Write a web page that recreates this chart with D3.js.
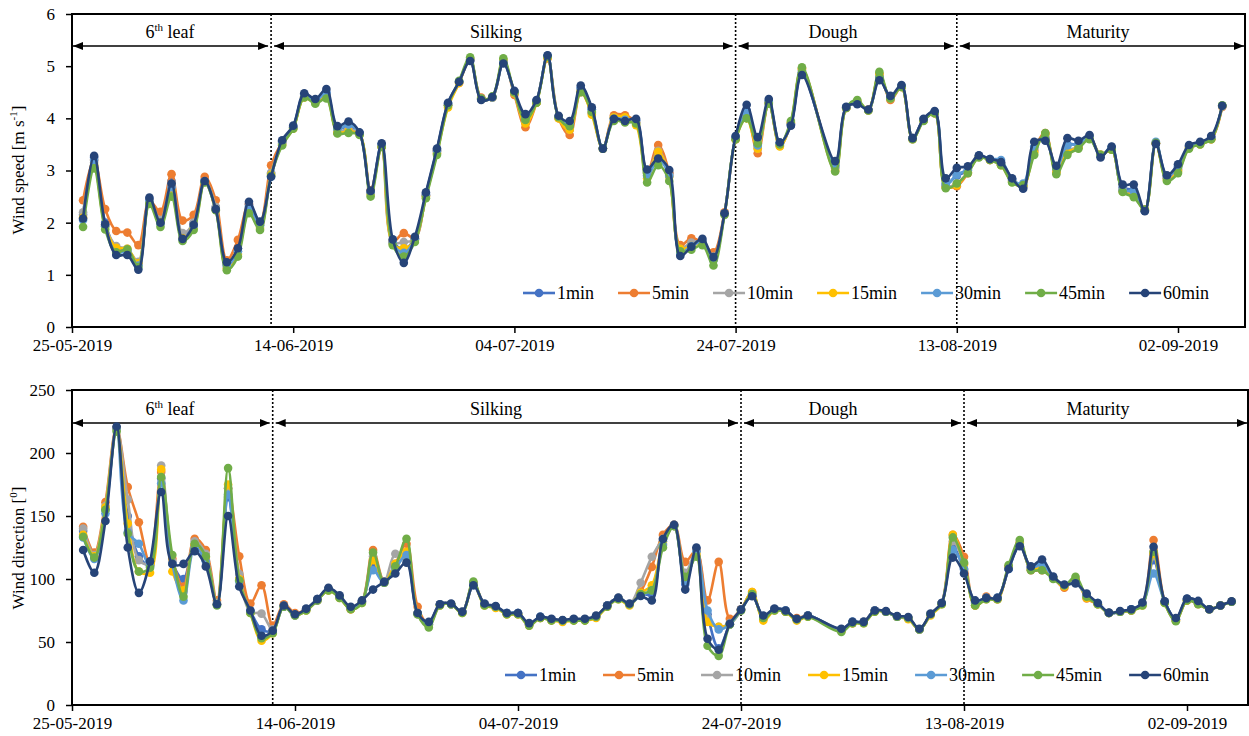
<!DOCTYPE html>
<html><head><meta charset="utf-8">
<script src="https://cdn.jsdelivr.net/npm/d3@7"></script>
<style>
body{margin:0;background:#fff}
svg{display:block}
svg text{font-family:"Liberation Serif","Times New Roman",Times,"DejaVu Serif",serif !important;fill:#000}
</style>
</head><body>
<svg id="chart" width="1249" height="736"></svg>
<script>
// ---------- DATA ----------
const startDate = "25-05-2019";
// observation days, counted from 25-05-2019
const days = [1,2,3,4,5,6,7,8,9,10,11,12,13,14,15,16,17,18,19,20,21,22,23,24,25,26,27,28,29,30,
31,32,33,34,35,36,37,38,39,40,41,42,43,44,45,46,47,48,49,50,51,52,53,54,55,56,57,58,59,60,
61,62,63,64,65,66,69,70,71,72,73,74,75,76,77,78,79,80,81,82,83,84,85,86,87,88,89,90,
91,92,93,94,95,96,97,98,99,100,101,102,103,104];
const seriesNames = ["1min","5min","10min","15min","30min","45min","60min"];
const seriesColors = ["#4472C4","#ED7D31","#A5A5A5","#FFC000","#5B9BD5","#70AD47","#264478"];
const xTickLabels = ["25-05-2019","14-06-2019","04-07-2019","24-07-2019","13-08-2019","02-09-2019"];
const phaseNames = ["6th leaf","Silking","Dough","Maturity"];
const phaseBounds = ["12-06-2019","24-07-2019","13-08-2019"];
const endDate = "08-09-2019";
const speedTicks = [0,1,2,3,4,5,6];
const dirTicks = [0,50,100,150,200,250];

// Wind speed [m s-1]
const speed1min = [2.15,3.25,2.00,1.50,1.45,1.20,2.45,2.05,2.80,1.75,
2.00,2.82,2.30,1.20,1.50,2.35,2.00,2.95,3.55,3.84,
4.45,4.35,4.50,3.80,3.85,3.72,2.60,3.50,1.65,1.50,
1.70,2.55,3.40,4.28,4.70,5.12,4.37,4.40,5.08,4.50,
4.00,4.33,5.20,4.03,3.85,4.58,4.17,3.42,4.00,3.98,
3.96,2.95,3.30,2.95,1.42,1.60,1.65,1.30,2.18,3.63,
4.15,3.50,4.33,3.52,3.88,4.88,
3.10,4.21,4.30,4.16,4.80,4.40,4.62,3.62,3.98,4.12,
2.75,2.90,3.00,3.28,3.21,3.14,2.82,2.68,3.45,3.63,
3.02,3.50,3.50,3.65,3.28,3.43,2.68,2.62,2.23,3.52,
2.88,3.05,3.47,3.53,3.63,4.24];
const speed5min = [2.43,3.20,2.26,1.84,1.81,1.57,2.42,2.21,2.93,2.04,
2.15,2.88,2.43,1.28,1.67,2.36,2.00,3.10,3.55,3.82,
4.42,4.33,4.45,3.72,3.74,3.70,2.62,3.45,1.64,1.80,
1.70,2.52,3.38,4.25,4.68,5.12,4.40,4.40,5.10,4.45,
3.83,4.30,5.15,4.00,3.68,4.50,4.10,3.42,4.06,4.06,
3.92,2.95,3.49,2.95,1.57,1.70,1.62,1.43,2.20,3.60,
4.05,3.33,4.30,3.48,3.90,4.95,
3.05,4.20,4.30,4.17,4.85,4.35,4.60,3.62,3.97,4.10,
2.70,2.70,2.95,3.27,3.20,3.12,2.80,2.72,3.40,3.72,
2.98,3.35,3.45,3.65,3.30,3.40,2.62,2.55,2.25,3.52,
2.85,3.02,3.45,3.52,3.60,4.22];
const speed10min = [2.20,3.15,1.95,1.55,1.50,1.25,2.40,2.05,2.75,1.80,
2.00,2.80,2.30,1.15,1.45,2.30,1.95,2.95,3.52,3.82,
4.42,4.32,4.45,3.75,3.80,3.70,2.58,3.48,1.62,1.63,
1.68,2.52,3.36,4.25,4.70,5.13,4.38,4.40,5.10,4.48,
3.92,4.32,5.18,4.02,3.78,4.55,4.12,3.42,4.02,4.00,
3.92,2.90,3.38,2.90,1.50,1.62,1.62,1.35,2.18,3.60,
4.08,3.42,4.30,3.47,3.90,4.92,
3.05,4.20,4.32,4.15,4.82,4.38,4.60,3.60,3.96,4.10,
2.70,2.75,2.97,3.27,3.20,3.12,2.80,2.70,3.38,3.68,
2.98,3.38,3.45,3.62,3.30,3.42,2.63,2.58,2.24,3.52,
2.85,3.00,3.45,3.52,3.62,4.23];
const speed15min = [2.10,3.10,1.92,1.52,1.50,1.22,2.38,2.00,2.60,1.70,
1.90,2.78,2.25,1.12,1.40,2.22,1.90,2.92,3.50,3.80,
4.40,4.30,4.40,3.73,3.75,3.70,2.55,3.46,1.60,1.51,
1.66,2.50,3.33,4.21,4.68,5.14,4.36,4.40,5.12,4.48,
3.90,4.30,5.16,4.00,3.78,4.52,4.07,3.42,4.02,4.02,
3.87,2.85,3.36,2.88,1.50,1.55,1.60,1.30,2.16,3.60,
4.00,3.42,4.30,3.46,3.92,4.95,
3.00,4.20,4.33,4.15,4.85,4.38,4.60,3.60,3.96,4.10,
2.68,2.72,2.96,3.26,3.20,3.10,2.78,2.70,3.35,3.70,
2.96,3.35,3.44,3.62,3.30,3.40,2.60,2.52,2.24,3.52,
2.82,2.98,3.43,3.50,3.60,4.24];
const speed30min = [2.05,3.20,1.93,1.42,1.45,1.18,2.42,1.98,2.68,1.68,
1.93,2.78,2.25,1.18,1.45,2.30,1.95,2.88,3.55,3.83,
4.45,4.33,4.48,3.80,3.88,3.72,2.58,3.50,1.62,1.42,
1.68,2.53,3.38,4.28,4.70,5.12,4.36,4.40,5.08,4.50,
4.00,4.33,5.20,4.03,3.88,4.58,4.17,3.42,3.99,3.97,
3.96,2.90,3.20,2.90,1.42,1.55,1.63,1.28,2.17,3.63,
4.10,3.48,4.32,3.52,3.88,4.88,
3.08,4.21,4.30,4.16,4.78,4.40,4.62,3.62,3.98,4.12,
2.72,2.92,3.02,3.28,3.22,3.20,2.83,2.75,3.45,3.60,
3.05,3.48,3.50,3.65,3.28,3.45,2.62,2.60,2.23,3.55,
2.88,3.08,3.47,3.53,3.63,4.24];
const speed45min = [1.92,3.04,1.87,1.43,1.49,1.15,2.36,1.92,2.50,1.65,
1.86,2.77,2.24,1.09,1.35,2.18,1.86,2.90,3.48,3.80,
4.40,4.28,4.38,3.71,3.72,3.68,2.50,3.45,1.57,1.35,
1.63,2.47,3.30,4.25,4.72,5.17,4.38,4.42,5.15,4.50,
3.97,4.30,5.18,4.02,3.85,4.50,4.12,3.42,3.95,3.92,
3.90,2.77,3.10,2.80,1.45,1.48,1.57,1.18,2.15,3.60,
4.00,3.52,4.28,3.50,3.95,4.98,
2.98,4.20,4.35,4.15,4.89,4.38,4.60,3.60,3.95,4.10,
2.66,2.75,2.95,3.25,3.20,3.10,2.77,2.72,3.30,3.72,
2.93,3.30,3.42,3.60,3.30,3.40,2.59,2.49,2.25,3.53,
2.80,2.95,3.42,3.50,3.60,4.25];
const speed60min = [2.08,3.28,1.97,1.38,1.38,1.10,2.48,2.00,2.75,1.69,
1.96,2.80,2.26,1.24,1.51,2.40,2.02,2.88,3.58,3.86,
4.48,4.37,4.56,3.85,3.94,3.73,2.61,3.52,1.68,1.23,
1.73,2.58,3.42,4.30,4.70,5.10,4.35,4.41,5.05,4.53,
4.08,4.35,5.21,4.05,3.95,4.63,4.21,3.42,3.99,3.95,
3.99,3.02,3.23,3.01,1.36,1.54,1.69,1.34,2.18,3.66,
4.26,3.64,4.37,3.54,3.86,4.83,
3.18,4.22,4.27,4.17,4.73,4.43,4.64,3.62,3.99,4.14,
2.85,3.05,3.08,3.29,3.22,3.16,2.85,2.65,3.55,3.57,
3.09,3.62,3.57,3.68,3.25,3.46,2.73,2.73,2.22,3.51,
2.91,3.12,3.49,3.55,3.66,4.24];

// Wind direction [deg]
const dir1min = [138,118,155,220,150,118,111,180,113,100,
126,115,80,165,100,75,60,59,79,72,
76,84,92,86,77,82,110,97,110,118,
73,65,80,80,74,95,80,78,73,73,
64,70,68,67,68,68,70,79,85,80,
88,88,130,143,96,124,72,45,64,76,
87,70,76,75,68,71,
60,66,66,75,74,70,69,60,72,81,
125,108,82,85,85,108,127,109,113,101,
95,97,87,81,73,74,76,80,115,82,
68,84,82,76,79,82];
const dir5min = [141.5,121,161,220,173,145,112,185,116,94,
132,123,83,172,118,80.5,95,63,80,73,
76,83,92,86,76,82,123,98,112,128,
78,64,80,80,74,97,80,78,72,72,
64,69,68,67,68,68,70,79,85,80,
90,109.6,135,143,113.6,123,83,113.6,68.5,76,
89.7,68,76,74,69,71,
59,65,66,75,74,70,69,60,72,81,
135,117.6,79,86,84,110,129,107,107,101,
93,100,84.5,80,73,74,75,80,131,82,
67,83,80,76,79,82];
const dir10min = [140,119,158,220,163,115,112,190,114,90,
130,120,81,172,104,74,72.5,60,79,72,
76,84,92,86,77,82,118,98,120,116,
73,64,80,80,74,96,80,78,73,73,
64,70,68,67,68,68,70,79,85,80,
97,117.6,132,143,105,122,70,62,65,76,
88,69,76,75,68,71,
60,66,66,75,74,70,69,60,72,81,
130,112,81,85,85,109,128,108,110,101,
95,98,86,80,73,74,75,80,118,82,
68,84,81,76,79,82];
const dir15min = [135,118,157,219,144,106,105,187,106,91,
127,117,80,175,100,73,51,57,78,71,
75,83,91,85,76,81,115,97,112,121.6,
72,63,79,80,73,96,79,77,72,72,
63,69,67,66,67,67,69,78,84,79,
89,95,128,142,100,120,66,62,64,75,
89.7,67,75,74,67,70,
59,65,65,74,74,70,68,60,71,80,
135,112,79,84,84,109,128,108,108,101,
94,99,85,80,73,74,75,79,120,81,
67,83,81,76,79,82];
const dir30min = [133,116,152,219,137,128,110,176,112,83,
125,114,80,167,98,74,55,58,78,71,
76,83,92,86,77,82,107,97,108,119,
72,64,80,80,74,96,80,78,73,73,
64,70,68,67,68,68,70,79,85,80,
87,91,127,142,98,122,75,60,64,75,
87,70,76,75,68,71,
60,66,66,75,74,70,69,60,72,81,
123,108,81,85,85,108,127,109,112,101,
95,97,87,81,73,74,76,80,104.4,82,
68,84,82,76,79,82];
const dir45min = [133.5,117,155,217,136,106,109,181,119,86,
128,118,79,188,99,73,53,57,78,71,
75,83,91,85,76,81,121,97,110,132,
72,61.6,79,80,73,98,79,78,72,72,
63,69,67,67,67,67,70,78,84,80,
88,91,125,142,101.7,117.6,47,39,64,75,
88,69,75,74,68,70,
58,65,65,74,74,70,69,60,72,80,
133,113,79,84,84,111,131,107,107,100,
95,101.7,86,80,73,74,75,79,121.6,81,
66.5,83,80,76,79,82];
const dir60min = [123,105,146,221,125,89,114,169,112,112,
122,110,80,150,94,75,55,59,79,72,
76.5,84,93,87,78,83,91.6,97.7,104.4,113,
73,66,80,80.5,74,95,80.5,78.6,73,73,
65,70,68.5,67.5,68.5,68.5,71,79,85,80.5,
86.5,83,131.7,143,91.6,125,52.6,43.8,64.5,75.7,
86.3,71,76.5,75,68.5,71,
60.5,66,66,75,74.5,70.6,69.8,60.5,72.5,81,
117,104.4,83,85,85,108,126,110,115.5,102,
95.6,96.5,88.4,81,73.3,74.6,76,81.3,125.6,82.3,
69,84.5,82.6,76,79,82.3];

// ---------- DRAWING ----------
const FONT = '"Liberation Serif","Times New Roman",Times,"DejaVu Serif",serif';
const parse = d3.timeParse("%d-%m-%Y");
const fmt = d3.timeFormat("%d-%m-%Y");
const t0 = parse(startDate), tEnd = parse(endDate);
const dates = days.map(d => d3.timeDay.offset(t0, d));
const svg = d3.select("#chart").attr("font-family", FONT);

const defs = svg.append("defs");
defs.append("marker").attr("id","arr").attr("viewBox","0 0 10 8")
  .attr("refX",10).attr("refY",4).attr("markerWidth",10).attr("markerHeight",8)
  .attr("markerUnits","userSpaceOnUse").attr("orient","auto-start-reverse")
  .append("path").attr("d","M0,0L10,4L0,8Z").attr("fill","#000");

function drawPanel(cfg){
  const g = svg.append("g");
  const x = d3.scaleTime().domain([t0, tEnd]).range([cfg.left, cfg.xEnd]);
  const y = d3.scaleLinear().domain([cfg.yTicks[0], cfg.yTicks[cfg.yTicks.length-1]]).range([cfg.bottom, cfg.top]);
  const clipId = "clip" + cfg.id;
  defs.append("clipPath").attr("id", clipId).append("rect")
    .attr("x", cfg.left).attr("y", cfg.top).attr("width", cfg.right - cfg.left).attr("height", cfg.bottom - cfg.top);

  // phase separators
  const bounds = phaseBounds.map(parse);
  g.selectAll(".sep").data(bounds).join("line")
    .attr("x1", d => x(d)).attr("x2", d => x(d))
    .attr("y1", cfg.top).attr("y2", cfg.bottom)
    .attr("stroke","#000").attr("stroke-width",1.6).attr("stroke-dasharray","2,2");

  // phase arrows
  const bx = [cfg.left + 1].concat(bounds.map(d => x(d))).concat([cfg.right - 1]);
  phaseNames.forEach((p, i) => {
    const x1 = i === 0 ? bx[0] : bx[i] + 3;
    const x2 = i === phaseNames.length - 1 ? bx[i+1] : bx[i+1] - 3;
    g.append("line").attr("x1", x1).attr("x2", x2).attr("y1", cfg.arrowY).attr("y2", cfg.arrowY)
      .attr("stroke","#000").attr("stroke-width",1.5)
      .attr("marker-start","url(#arr)").attr("marker-end","url(#arr)");
    const t = g.append("text").attr("x", cfg.phaseLabelX[i]).attr("y", cfg.arrowY - 8)
      .attr("text-anchor","middle").attr("font-size",18).attr("font-family", FONT);
    if (p === "6th leaf") {
      t.append("tspan").text("6");
      t.append("tspan").attr("font-size",11).attr("dy",-7).text("th");
      t.append("tspan").attr("dy",7).text(" leaf");
    } else t.text(p);
  });

  // series
  const line = d3.line().x(d => x(d.date)).y(d => y(d.v)).curve(d3.curveCatmullRom.alpha(0.5));
  const plot = g.append("g").attr("clip-path", `url(#${clipId})`);
  cfg.series.forEach((vals, si) => {
    const pts = vals.map((v, i) => ({date: dates[i], v}));
    plot.append("path").datum(pts).attr("d", line).attr("fill","none")
      .attr("stroke", seriesColors[si]).attr("stroke-width",2.6);
    plot.append("g").selectAll("circle").data(pts).join("circle")
      .attr("cx", d => x(d.date)).attr("cy", d => y(d.v)).attr("r",4.3)
      .attr("fill", seriesColors[si]);
  });

  // legend
  let lx = cfg.legendX;
  seriesNames.forEach((n, i) => {
    const lg = g.append("g");
    lg.append("line").attr("x1", lx).attr("x2", lx + 32).attr("y1", cfg.legendY).attr("y2", cfg.legendY)
      .attr("stroke", seriesColors[i]).attr("stroke-width",2.6);
    lg.append("circle").attr("cx", lx + 16).attr("cy", cfg.legendY).attr("r",4.3).attr("fill", seriesColors[i]);
    const tx = lg.append("text").attr("x", lx + 34).attr("y", cfg.legendY + 6)
      .attr("font-size",18).attr("font-family", FONT).text(n);
    lx += 34 + tx.node().getComputedTextLength() + cfg.legendGap;
  });

  // frame
  g.append("rect").attr("x", cfg.left).attr("y", cfg.top)
    .attr("width", cfg.right - cfg.left).attr("height", cfg.bottom - cfg.top)
    .attr("fill","none").attr("stroke","#000").attr("stroke-width",2);

  // axes
  const xa = g.append("g").attr("transform", `translate(0,${cfg.bottom})`)
    .call(d3.axisBottom(x).tickValues(xTickLabels.map(parse)).tickFormat(fmt).tickSize(6).tickSizeOuter(0).tickPadding(6));
  xa.attr("font-family", FONT);
  xa.select(".domain").remove();
  xa.selectAll("line").attr("stroke","#000").attr("stroke-width",1.5);
  xa.selectAll("text").attr("font-size",17).attr("font-family", FONT);
  const ya = g.append("g").attr("transform", `translate(${cfg.left},0)`)
    .call(d3.axisLeft(y).tickValues(cfg.yTicks).tickFormat(d3.format("d")).tickSize(6).tickPadding(11));
  ya.attr("font-family", FONT);
  ya.select(".domain").remove();
  ya.selectAll("line").attr("stroke","#000").attr("stroke-width",1.5);
  ya.selectAll("text").attr("font-size",17).attr("font-family", FONT);

  // y title
  const tt = g.append("text").attr("transform", `translate(${cfg.titleX},${cfg.titleY}) rotate(-90)`)
    .attr("text-anchor","middle").attr("font-size",17).attr("font-family", FONT);
  cfg.title(tt);
}

drawPanel({
  id: "top", left: 72, right: 1245, xEnd: 72 + 106 * 11.06, top: 14, bottom: 327,
  yTicks: speedTicks,
  series: [speed1min, speed5min, speed10min, speed15min, speed30min, speed45min, speed60min],
  arrowY: 46, phaseLabelX: [170, 496, 833, 1098],
  legendX: 523, legendY: 293, legendGap: 24,
  titleX: 24, titleY: 170,
  title: t => {
    t.append("tspan").text("Wind speed [m s");
    t.append("tspan").attr("font-size",11).attr("dy",-7).text("-1");
    t.append("tspan").attr("dy",7).text("]");
  }
});

drawPanel({
  id: "bot", left: 72, right: 1248, xEnd: 72 + 106 * 11.15, top: 390, bottom: 705,
  yTicks: dirTicks,
  series: [dir1min, dir5min, dir10min, dir15min, dir30min, dir45min, dir60min],
  arrowY: 423, phaseLabelX: [170, 496, 833, 1098],
  legendX: 505, legendY: 675, legendGap: 27,
  titleX: 24, titleY: 548,
  title: t => {
    t.append("tspan").text("Wind direction [");
    t.append("tspan").attr("font-size",11).attr("dy",-7).text("0");
    t.append("tspan").attr("dy",7).text("]");
  }
});
</script>
</body></html>
